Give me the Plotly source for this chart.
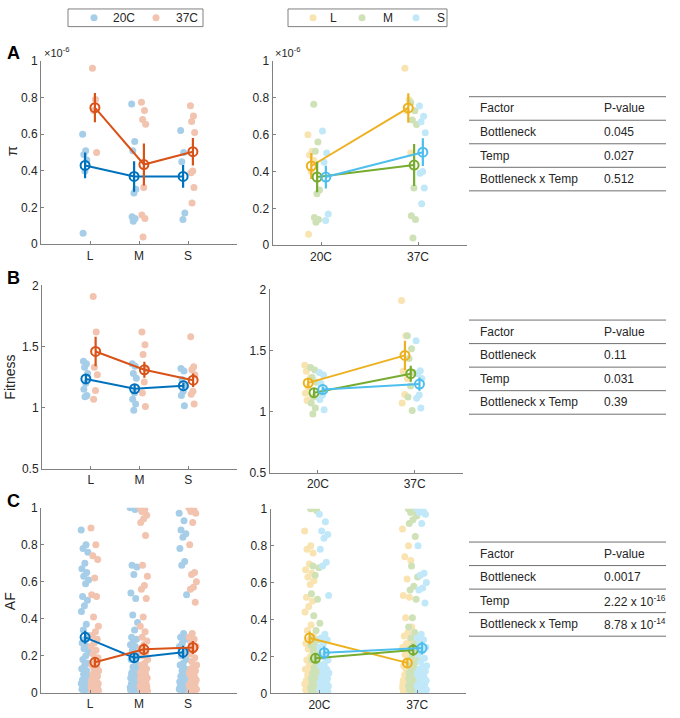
import plotly.graph_objects as go

W, H = 680, 718

bottlenecks = ["L", "M", "S"]
temps = ["20C", "37C"]

# ---------------- Panel A: pi (units of 1e-6) ----------------
pi_L_20C = [0.60, 0.51, 0.49, 0.46, 0.40, 0.06]
pi_L_37C = [0.96, 0.79, 0.73, 0.50]
pi_M_20C = [0.765, 0.56, 0.51, 0.30, 0.28, 0.15, 0.14, 0.125]
pi_M_37C = [0.775, 0.73, 0.68, 0.655, 0.31, 0.16, 0.14, 0.04]
pi_S_20C = [0.62, 0.50, 0.45, 0.17, 0.135]
pi_S_37C = [0.755, 0.70, 0.67, 0.61, 0.40, 0.39, 0.31, 0.225]
pi_mean_20C = [0.43, 0.37, 0.37]
pi_err_20C = [0.07, 0.083, 0.062]
pi_mean_37C = [0.745, 0.435, 0.505]
pi_err_37C = [0.08, 0.114, 0.075]

# ---------------- Panel B: fitness ----------------
fit_L_20C = [1.38, 1.36, 1.33, 1.28, 1.20, 1.15, 1.10, 1.09]
fit_L_37C = [1.91, 1.62, 1.33, 1.27, 1.14, 1.07]
fit_M_20C = [1.36, 1.34, 1.28, 1.24, 1.12, 1.07, 1.03, 0.98]
fit_M_37C = [1.62, 1.515, 1.435, 1.32, 1.21, 1.12, 1.01]
fit_S_20C = [1.32, 1.30, 1.23, 1.175, 1.135, 1.10, 1.015]
fit_S_37C = [1.58, 1.335, 1.31, 1.27, 1.135, 1.11, 1.03]
fit_mean_20C = [1.235, 1.155, 1.18]
fit_err_20C = [0.035, 0.03, 0.025]
fit_mean_37C = [1.46, 1.31, 1.225]
fit_err_37C = [0.12, 0.065, 0.055]

# ---------------- Panel C: allele frequency ----------------
af_L_20C = [0.88, 0.80, 0.78, 0.76, 0.70, 0.67, 0.65, 0.63, 0.61, 0.59, 0.52, 0.50,
            0.47, 0.44, 0.37, 0.34, 0.31, 0.29, 0.27, 0.25, 0.24, 0.22, 0.20, 0.18,
            0.16, 0.15, 0.13, 0.12, 0.10, 0.09, 0.08, 0.07, 0.06, 0.05, 0.05, 0.04,
            0.03, 0.03, 0.02, 0.02, 0.01, 0.01]
af_L_37C = [0.89, 0.80, 0.74, 0.72, 0.62, 0.53, 0.52, 0.41, 0.36, 0.33, 0.31, 0.29,
            0.27, 0.25, 0.23, 0.21, 0.19, 0.17, 0.15, 0.14, 0.13, 0.12, 0.11, 0.10,
            0.09, 0.08, 0.07, 0.06, 0.06, 0.05, 0.05, 0.04, 0.04, 0.03, 0.03, 0.03,
            0.02, 0.02, 0.02, 0.01, 0.01, 0.01, 0.01, 0.01, 0.02, 0.03, 0.04, 0.05,
            0.06, 0.07]
af_M_20C = [1.00, 0.99, 0.69, 0.68, 0.64, 0.54, 0.51, 0.42, 0.38, 0.34, 0.30, 0.29,
            0.28, 0.26, 0.25, 0.23, 0.21, 0.19, 0.18, 0.16, 0.14, 0.13, 0.12, 0.11,
            0.10, 0.09, 0.08, 0.07, 0.06, 0.06, 0.05, 0.05, 0.04, 0.04, 0.03, 0.03,
            0.02, 0.02, 0.02, 0.01, 0.01, 0.01, 0.05, 0.08, 0.10, 0.12, 0.03, 0.02]
af_M_37C = [1.00, 0.99, 0.98, 0.96, 0.94, 0.92, 0.85, 0.69, 0.63, 0.58, 0.56, 0.51,
            0.41, 0.36, 0.33, 0.30, 0.28, 0.26, 0.24, 0.22, 0.20, 0.18, 0.16, 0.15,
            0.13, 0.12, 0.11, 0.10, 0.09, 0.08, 0.07, 0.06, 0.05, 0.05, 0.04, 0.04,
            0.03, 0.03, 0.02, 0.02, 0.01, 0.01, 0.01, 0.02, 0.03, 0.04, 0.06, 0.08,
            0.10, 0.12]
af_S_20C = [0.97, 0.93, 0.88, 0.86, 0.84, 0.78, 0.71, 0.69, 0.53, 0.32, 0.30, 0.29,
            0.27, 0.25, 0.22, 0.20, 0.18, 0.16, 0.15, 0.13, 0.12, 0.11, 0.10, 0.09,
            0.08, 0.07, 0.06, 0.05, 0.05, 0.04, 0.04, 0.03, 0.03, 0.02, 0.02, 0.01,
            0.01, 0.01, 0.02, 0.03, 0.06, 0.08]
af_S_37C = [1.00, 0.99, 0.98, 0.97, 0.92, 0.80, 0.65, 0.64, 0.60, 0.57, 0.56, 0.49,
            0.32, 0.30, 0.29, 0.27, 0.25, 0.23, 0.21, 0.19, 0.17, 0.15, 0.14, 0.13,
            0.12, 0.11, 0.10, 0.09, 0.08, 0.07, 0.06, 0.05, 0.05, 0.04, 0.04, 0.03,
            0.03, 0.02, 0.02, 0.01, 0.01, 0.01, 0.02, 0.03, 0.05, 0.07, 0.09, 0.11]
af_mean_20C = [0.30, 0.19, 0.22]
af_err_20C = [0.035, 0.025, 0.035]
af_mean_37C = [0.165, 0.235, 0.245]
af_err_37C = [0.02, 0.032, 0.035]

# ---------------- ANOVA tables ----------------
table_factors = ["Factor", "Bottleneck", "Temp", "Bottleneck x Temp"]
pvals_A = ["P-value", "0.045", "0.027", "0.512"]
pvals_B = ["P-value", "0.11", "0.031", "0.39"]
pvals_C = ["P-value", "0.0017", "2.22 x 10<sup>-16</sup>", "8.78 x 10<sup>-14</sup>"]

# ---------------- styling ----------------
FONT = "Liberation Sans, Arial, Helvetica, sans-serif"
TXT = "#262626"
AXC = "#808080"
temp_dark = {"20C": "#0072BD", "37C": "#D95319"}
temp_light = {"20C": "#A6CEE8", "37C": "#F2C3AF"}
bn_dark = {"L": "#EDB120", "M": "#77AC30", "S": "#4DBEEE"}
bn_light = {"L": "#F9E4B1", "M": "#CFE2B7", "S": "#C1E8F9"}
temp_off = {"20C": -0.1, "37C": 0.1}
bn_off = {"L": -0.1, "M": -0.04, "S": 0.05}


def pxx(x):
    return x / W


def pyy(y):
    return 1 - y / H


def jitter(n, center, width):
    # deterministic spread of dots around a category position
    return [center + width * (((i * 0.6180339) % 1.0) - 0.5) * 2 for i in range(n)]


panels = [
    dict(groups={("L", "20C"): pi_L_20C, ("L", "37C"): pi_L_37C,
                 ("M", "20C"): pi_M_20C, ("M", "37C"): pi_M_37C,
                 ("S", "20C"): pi_S_20C, ("S", "37C"): pi_S_37C},
         mean={"20C": pi_mean_20C, "37C": pi_mean_37C},
         err={"20C": pi_err_20C, "37C": pi_err_37C},
         yr=[0, 1], tickvals=[0, 0.2, 0.4, 0.6, 0.8, 1],
         ticktext=["0", "0.2", "0.4", "0.6", "0.8", "1"], jw=0.05, jwr=0.035,
         left_x=(41, 237), right_x=(272.5, 466.5),
         left_dom=(242, 55), right_dom=(243, 55)),
    dict(groups={("L", "20C"): fit_L_20C, ("L", "37C"): fit_L_37C,
                 ("M", "20C"): fit_M_20C, ("M", "37C"): fit_M_37C,
                 ("S", "20C"): fit_S_20C, ("S", "37C"): fit_S_37C},
         mean={"20C": fit_mean_20C, "37C": fit_mean_37C},
         err={"20C": fit_err_20C, "37C": fit_err_37C},
         yr=[0.5, 2], tickvals=[0.5, 1, 1.5, 2],
         ticktext=["0.5", "1", "1.5", "2"], jw=0.05, jwr=0.035,
         left_x=(42, 237), right_x=(269.5, 463),
         left_dom=(471, 284), right_dom=(475, 288)),
    dict(groups={("L", "20C"): af_L_20C, ("L", "37C"): af_L_37C,
                 ("M", "20C"): af_M_20C, ("M", "37C"): af_M_37C,
                 ("S", "20C"): af_S_20C, ("S", "37C"): af_S_37C},
         mean={"20C": af_mean_20C, "37C": af_mean_37C},
         err={"20C": af_err_20C, "37C": af_err_37C},
         yr=[0, 1], tickvals=[0, 0.2, 0.4, 0.6, 0.8, 1],
         ticktext=["0", "0.2", "0.4", "0.6", "0.8", "1"], jw=0.08, jwr=0.05,
         left_x=(41, 237), right_x=(270.5, 466),
         left_dom=(699.5, 510.7), right_dom=(700, 511.7)),
]

fig = go.Figure()
layout = {}

for p_i, P in enumerate(panels):
    la = 2 * p_i + 1
    ra = 2 * p_i + 2
    lx = "x" if la == 1 else f"x{la}"
    ly = "y" if la == 1 else f"y{la}"
    rx = f"x{ra}"
    ry = f"y{ra}"

    # ---- left: grouped by bottleneck, coloured by temperature ----
    for t in temps:
        for bi, b in enumerate(bottlenecks):
            vals = P["groups"][(b, t)]
            fig.add_trace(go.Scatter(
                x=jitter(len(vals), bi + 1 + temp_off[t], P["jw"]), y=vals,
                mode="markers", xaxis=lx, yaxis=ly, showlegend=False,
                marker=dict(size=7, color=temp_light[t], line=dict(width=0)),
                hoverinfo="skip"))
    for t in temps:
        fig.add_trace(go.Scatter(
            x=[i + 1 + temp_off[t] for i in range(3)], y=P["mean"][t],
            error_y=dict(type="data", array=P["err"][t], thickness=2.2, width=0,
                         color=temp_dark[t]),
            mode="lines+markers", xaxis=lx, yaxis=ly, showlegend=False,
            line=dict(color=temp_dark[t], width=2),
            marker=dict(symbol="circle-open", size=9, color=temp_dark[t],
                        line=dict(width=2, color=temp_dark[t]))))

    # ---- right: grouped by temperature, coloured by bottleneck ----
    for b in bottlenecks:
        for ti, t in enumerate(temps):
            vals = P["groups"][(b, t)]
            fig.add_trace(go.Scatter(
                x=jitter(len(vals), ti + 1 + bn_off[b], P["jwr"]), y=vals,
                mode="markers", xaxis=rx, yaxis=ry, showlegend=False,
                marker=dict(size=7, color=bn_light[b], line=dict(width=0)),
                hoverinfo="skip"))
    for bi, b in enumerate(bottlenecks):
        fig.add_trace(go.Scatter(
            x=[ti + 1 + bn_off[b] for ti in range(2)],
            y=[P["mean"][t][bi] for t in temps],
            error_y=dict(type="data", array=[P["err"][t][bi] for t in temps],
                         thickness=2.2, width=0, color=bn_dark[b]),
            mode="lines+markers", xaxis=rx, yaxis=ry, showlegend=False,
            line=dict(color=bn_dark[b], width=2),
            marker=dict(symbol="circle-open", size=9, color=bn_dark[b],
                        line=dict(width=2, color=bn_dark[b]))))

    common = dict(showline=True, linecolor=AXC, linewidth=1, ticks="inside",
                  ticklen=3, tickcolor=AXC, showgrid=False, zeroline=False,
                  tickfont=dict(family=FONT, size=12, color=TXT))
    layout[("xaxis" if la == 1 else f"xaxis{la}")] = dict(
        common, domain=[pxx(P["left_x"][0]), pxx(P["left_x"][1])], range=[0, 4],
        tickvals=[1, 2, 3], ticktext=bottlenecks, anchor=ly)
    layout[("yaxis" if la == 1 else f"yaxis{la}")] = dict(
        common, domain=[pyy(P["left_dom"][0]), pyy(P["left_dom"][1])],
        range=P["yr"], tickvals=P["tickvals"], ticktext=P["ticktext"], anchor=lx)
    layout[f"xaxis{ra}"] = dict(
        common, domain=[pxx(P["right_x"][0]), pxx(P["right_x"][1])], range=[0.5, 2.5],
        tickvals=[1, 2], ticktext=temps, anchor=ry)
    layout[f"yaxis{ra}"] = dict(
        common, domain=[pyy(P["right_dom"][0]), pyy(P["right_dom"][1])],
        range=P["yr"], tickvals=P["tickvals"], ticktext=P["ticktext"], anchor=rx)

annotations = []
shapes = []


def ann(x, y, text, size=12, xanchor="center", bold=False, angle=0):
    annotations.append(dict(
        x=pxx(x), y=pyy(y), xref="paper", yref="paper",
        text=(f"<b>{text}</b>" if bold else text),
        showarrow=False, xanchor=xanchor, yanchor="middle", textangle=angle,
        font=dict(family=FONT, size=size, color=TXT if not bold else "#000000")))


# panel letters
ann(13, 47, "A", size=18, bold=True)
ann(13, 276, "B", size=18, bold=True)
ann(13, 504, "C", size=18, bold=True)
# y-axis titles
ann(11, 147, "π", size=15, angle=-90)
ann(10, 378, "Fitness", size=14, angle=-90)
ann(10, 606, "AF", size=14, angle=-90)
# exponent labels
ann(42, 46, "×10<sup>-6</sup>", size=11, xanchor="left")
ann(273, 46, "×10<sup>-6</sup>", size=11, xanchor="left")


# legends
def legend_box(x0, x1, items):
    shapes.append(dict(type="rect", xref="paper", yref="paper",
                       x0=pxx(x0), x1=pxx(x1), y0=pyy(20), y1=pyy(2),
                       line=dict(color="#808080", width=1), fillcolor="white"))
    for (dx, tx, label, col) in items:
        shapes.append(dict(type="circle", xref="paper", yref="paper",
                           xsizemode="pixel", ysizemode="pixel",
                           xanchor=pxx(dx), yanchor=pyy(11),
                           x0=-3.5, x1=3.5, y0=-3.5, y1=3.5,
                           line=dict(width=0), fillcolor=col))
        ann(tx, 11, label, size=12)


legend_box(68, 203, [(94, 124, "20C", temp_light["20C"]),
                     (156, 187, "37C", temp_light["37C"])])
legend_box(288, 447, [(313, 333, "L", bn_light["L"]),
                      (362, 388, "M", bn_light["M"]),
                      (416, 441, "S", bn_light["S"])])


# tables
def table(top, pvals):
    rowh = 24
    for r in range(5):
        shapes.append(dict(type="line", xref="paper", yref="paper",
                           x0=pxx(469), x1=pxx(666), y0=pyy(top + r * rowh),
                           y1=pyy(top + r * rowh), line=dict(color="#707070", width=1)))
    for r in range(4):
        yc = top + r * rowh + rowh / 2
        ann(478, yc, table_factors[r], size=12, xanchor="left")
        ann(602, yc, pvals[r], size=12, xanchor="left")


table(91.5, pvals_A)
table(319.3, pvals_B)
table(545.7, pvals_C)

fig.update_layout(
    width=W, height=H, margin=dict(l=0, r=0, t=0, b=0),
    paper_bgcolor="white", plot_bgcolor="white", showlegend=False,
    annotations=annotations, shapes=shapes,
    font=dict(family=FONT, size=12, color=TXT), **layout)

fig.write_html("out.html", config={"displayModeBar": False},
               post_script="document.body.style.margin='0px';document.body.style.overflow='hidden';")
